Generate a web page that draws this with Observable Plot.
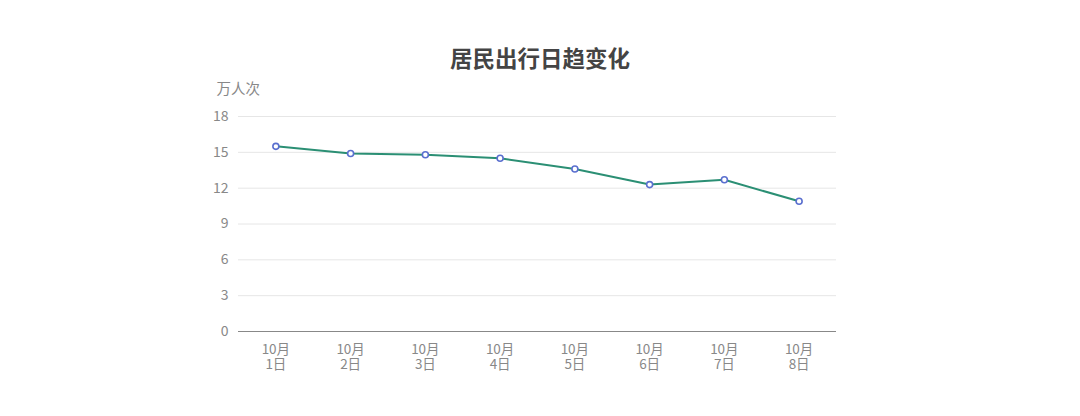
<!DOCTYPE html>
<html>
<head>
<meta charset="utf-8">
<script src="https://cdn.jsdelivr.net/npm/d3@7"></script>
<script src="https://cdn.jsdelivr.net/npm/@observablehq/plot@0.6"></script>
<style>
  html, body { margin: 0; padding: 0; background: #fff; }
  body { width: 1080px; height: 416px; overflow: hidden; font-family: "Noto Sans CJK SC", "Noto Sans", sans-serif; }
  #title { height: 70px; padding-top: 43px; line-height: 28px; text-align: center; font-size: 22.5px; font-weight: bold; color: #444; box-sizing: border-box; overflow: visible; white-space: nowrap; }
</style>
</head>
<body>
<div id="title">居民出行日趋变化</div>
<div id="chart"></div>
<script>
const days = ["10月\n1日", "10月\n2日", "10月\n3日", "10月\n4日", "10月\n5日", "10月\n6日", "10月\n7日", "10月\n8日"];
const trips = [15.5, 14.9, 14.8, 14.5, 13.6, 12.3, 12.7, 10.9];
const yTicks = [0, 3, 6, 9, 12, 15, 18];
const unitLabel = "万人次";

const data = days.map((d, i) => ({day: d, value: trips[i]}));

const chart = Plot.plot({
  width: 1080,
  height: 346,
  marginLeft: 238,
  marginRight: 244,
  marginTop: 46,
  marginBottom: 85,
  style: {fontFamily: '"Noto Sans CJK SC", "Noto Sans", sans-serif', fontSize: "14px", color: "#888", background: "#fff", overflow: "visible"},
  x: {type: "point", domain: days, padding: 0.5, round: false, label: null},
  y: {domain: [0, 18], ticks: yTicks, label: null},
  marks: [
    Plot.gridY(yTicks.filter(t => t > 0), {stroke: "#e6e6e6", strokeOpacity: 1, strokeWidth: 1}),
    Plot.ruleY([0], {stroke: "#888", strokeWidth: 1.2}),
    Plot.axisY({ticks: yTicks, tickSize: 0, tickPadding: 10, label: null, fill: "#888", fontSize: 14}),
    Plot.axisX({tickSize: 0, tickPadding: 12, label: null, fill: "#888", fontSize: 13.5, lineHeight: 1.1}),
    Plot.line(data, {x: "day", y: "value", stroke: "#2b8f74", strokeWidth: 2}),
    Plot.dot(data, {x: "day", y: "value", r: 3, stroke: "#5a6fcf", strokeWidth: 1.6, fill: "#fff"}),
    Plot.text([unitLabel], {frameAnchor: "top-left", dx: -22, dy: -27, text: d => d, textAnchor: "start", lineAnchor: "middle", fill: "#888", fontSize: 14.5})
  ]
});
document.getElementById("chart").appendChild(chart);
</script>
</body>
</html>
